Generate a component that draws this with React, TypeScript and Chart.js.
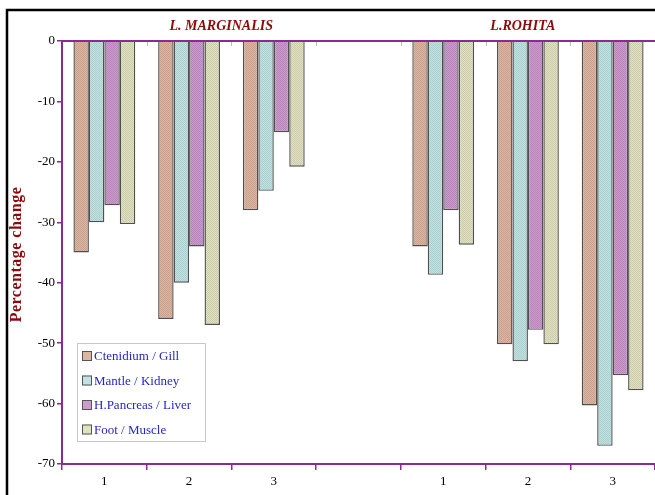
import React, { useEffect, useRef } from "react";
import { Chart, registerables } from "chart.js";

Chart.register(...registerables);

const categories = ["1", "2", "3", "", "1", "2", "3"];
const groupTitles = ["L. MARGINALIS", "L.ROHITA"];
const seriesLabels = ["Ctenidium / Gill", "Mantle / Kidney", "H.Pancreas / Liver", "Foot / Muscle"];
const ctenidium = [-35, -46, -28, null, -34, -50.2, -60.3];
const mantle = [-30, -40, -24.8, null, -38.7, -53, -67];
const pancreas = [-27.2, -34, -15.1, null, -28, -47.8, -55.3];
const foot = [-30.3, -47, -20.8, null, -33.7, -50.2, -57.8];
const yTicks = { min: -70, max: 0, step: 10 };

const baseColors = ["#dcb6a2", "#c3e1e1", "#cc9ccd", "#e1e1c3"];
const dotColors = ["#c9a08c", "#a9cfcf", "#b784b9", "#cbcba9"];
const PURPLE = "#8b2a94";
const DARKRED = "#8b0a0a";
const SERIF = "'Liberation Serif', 'DejaVu Serif', serif";

function makePattern(base: string, dot: string): CanvasPattern | string {
  const c = document.createElement("canvas");
  c.width = 2;
  c.height = 2;
  const g = c.getContext("2d");
  if (!g) return base;
  g.fillStyle = base;
  g.fillRect(0, 0, 2, 2);
  g.fillStyle = dot;
  g.fillRect(0, 0, 1, 1);
  g.fillRect(1, 1, 1, 1);
  const ctx = document.createElement("canvas").getContext("2d");
  const p = ctx ? ctx.createPattern(c, "repeat") : null;
  return p || base;
}

const decorPlugin = {
  id: "decor",
  beforeDraw(chart: any) {
    const ctx = chart.ctx;
    ctx.save();
    ctx.fillStyle = "#ffffff";
    ctx.fillRect(0, 0, chart.width, chart.height);
    ctx.restore();
  },
  afterDraw(chart: any) {
    const ctx = chart.ctx;
    const x = chart.scales.x;
    const y = chart.scales.y;
    const area = chart.chartArea;
    ctx.save();
    // frame
    ctx.strokeStyle = "#000";
    ctx.lineWidth = 2.5;
    ctx.strokeRect(7, 10, chart.width + 10, chart.height + 10);
    // zero line
    const y0 = y.getPixelForValue(0);
    ctx.strokeStyle = PURPLE;
    ctx.lineWidth = 2;
    ctx.beginPath();
    ctx.moveTo(area.left, y0);
    ctx.lineTo(area.right, y0);
    ctx.stroke();
    // faint top ticks at boundaries
    ctx.strokeStyle = "#bbbbbb";
    ctx.lineWidth = 1;
    for (let i = 1; i < categories.length; i++) {
      const px = Math.round(x.getPixelForValue(i - 0.5)) + 0.5;
      ctx.beginPath();
      ctx.moveTo(px, y0 + 1);
      ctx.lineTo(px, y0 + 5);
      ctx.stroke();
    }
    // group titles
    ctx.fillStyle = DARKRED;
    ctx.font = `italic bold 14px ${SERIF}`;
    ctx.textAlign = "center";
    ctx.textBaseline = "middle";
    ctx.fillText(groupTitles[0], x.getPixelForValue(1.38), 26);
    ctx.fillText(groupTitles[1], x.getPixelForValue(4.94), 26);
    // y title
    ctx.save();
    ctx.translate(17, (area.top + area.bottom) / 2 + 2);
    ctx.rotate(-Math.PI / 2);
    ctx.font = `bold 16px ${SERIF}`;
    try {
      (ctx as any).letterSpacing = "0.5px";
    } catch (e) {}
    ctx.fillText("Percentage change", 0, 0);
    ctx.restore();
    // legend
    const lx = 77, ly = 343, lw = 128, lh = 98;
    ctx.fillStyle = "#ffffff";
    ctx.fillRect(lx, ly, lw, lh);
    ctx.strokeStyle = "#c8c8c8";
    ctx.lineWidth = 1;
    ctx.strokeRect(lx + 0.5, ly + 0.5, lw, lh);
    ctx.font = `13px ${SERIF}`;
    ctx.textAlign = "left";
    chart.data.datasets.forEach((ds: any, i: number) => {
      const cy = ly + 13 + i * 24.5;
      ctx.fillStyle = baseColors[i];
      ctx.fillRect(lx + 5, cy - 5, 10, 10);
      ctx.strokeStyle = "#555";
      ctx.strokeRect(lx + 5.5, cy - 4.5, 9, 9);
      ctx.fillStyle = "#2626c8";
      ctx.fillText(ds.label, lx + 17, cy + 1);
    });
    ctx.restore();
  },
};

export default function App() {
  const ref = useRef<HTMLCanvasElement | null>(null);
  useEffect(() => {
    if (!ref.current) return;
    const series = [ctenidium, mantle, pancreas, foot];
    const chart = new Chart(ref.current, {
      type: "bar",
      data: {
        labels: categories,
        datasets: series.map((d, i) => ({
          label: seriesLabels[i],
          data: d,
          backgroundColor: makePattern(baseColors[i], dotColors[i]) as any,
          borderColor: "#505050",
          borderWidth: 1.4,
          categoryPercentage: 0.73,
          barPercentage: 1,
        })),
      },
      options: {
        responsive: false,
        animation: false,
        layout: { padding: { top: 41, left: 0, right: 0, bottom: 0 } },
        plugins: { legend: { display: false }, tooltip: { enabled: false } },
        scales: {
          x: {
            afterFit: (s: any) => {
              s.height = 31;
            },
            grid: {
              offset: true,
              drawOnChartArea: false,
              tickLength: 6,
              color: PURPLE,
              lineWidth: 1.5,
            },
            border: { color: PURPLE, width: 2 },
            ticks: { color: "#000", font: { family: SERIF, size: 13 }, padding: 4 },
          },
          y: {
            min: yTicks.min,
            max: yTicks.max,
            afterFit: (s: any) => {
              s.width = 62;
            },
            grid: { drawOnChartArea: false, tickLength: 5, color: PURPLE, lineWidth: 1.5 },
            border: { color: PURPLE, width: 2 },
            ticks: {
              stepSize: yTicks.step,
              color: "#000",
              font: { family: SERIF, size: 13 },
              padding: 2,
            },
          },
        },
      },
      plugins: [decorPlugin],
    });
    return () => chart.destroy();
  }, []);
  return (
    <div style={{ position: "absolute", left: 0, top: 0, width: 655, height: 495 }}>
      <canvas ref={ref} width={655} height={495} style={{ display: "block" }} />
    </div>
  );
}
